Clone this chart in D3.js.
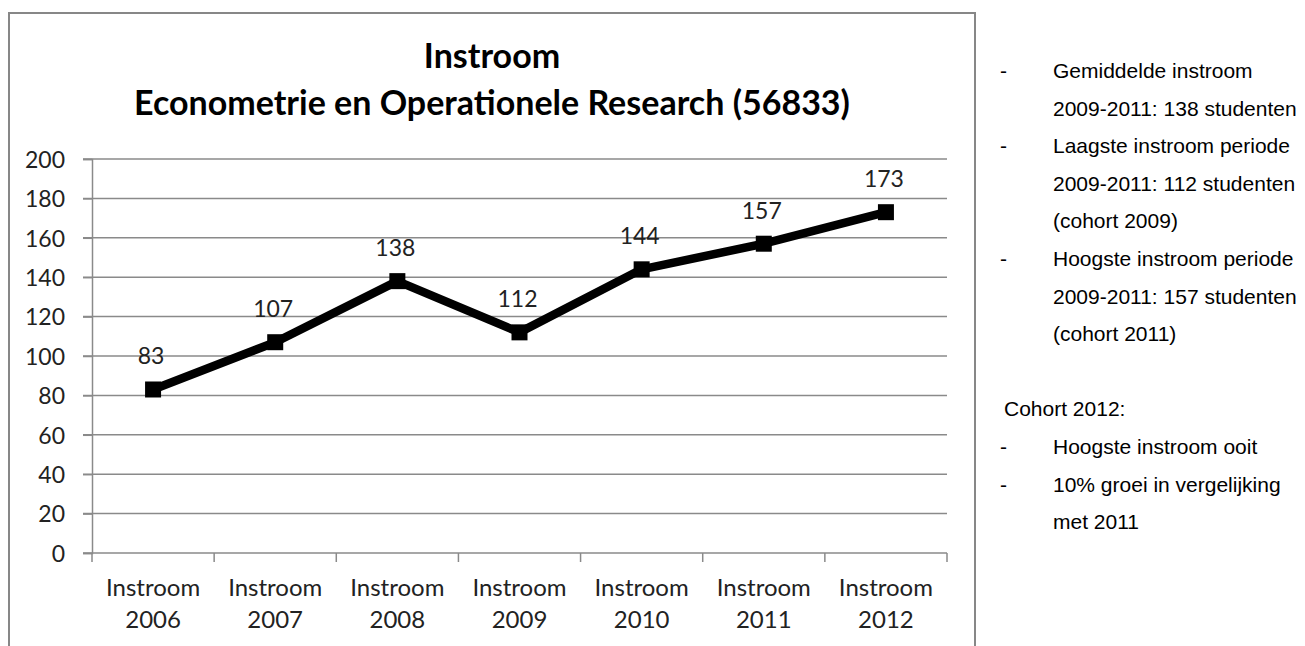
<!DOCTYPE html>
<html>
<head>
<meta charset="utf-8">
<script src="https://cdn.jsdelivr.net/npm/d3@7"></script>
<style>
  body { margin: 0; background: #fff; }
</style>
</head>
<body>
<script>
// chart data
const categories = ["2006", "2007", "2008", "2009", "2010", "2011", "2012"];
const values = [83, 107, 138, 112, 144, 157, 173];
const yTicks = [0, 20, 40, 60, 80, 100, 120, 140, 160, 180, 200];
const titleLines = ["Instroom", "Econometrie en Operationele Research (56833)"];

// notes on the right side
const notes = [
    {bullet: true, lines: ["Gemiddelde instroom", "2009-2011: 138 studenten"]},
    {bullet: true, lines: ["Laagste instroom periode", "2009-2011: 112 studenten", "(cohort 2009)"]},
    {bullet: true, lines: ["Hoogste instroom periode", "2009-2011: 157 studenten", "(cohort 2011)"]},
    {bullet: false, lines: [""]},
    {bullet: false, lines: ["Cohort 2012:"]},
    {bullet: true, lines: ["Hoogste instroom ooit"]},
    {bullet: true, lines: ["10% groei in vergelijking", "met 2011"]}
];

const canvWidth = 1305, canvHeight = 646;
const svg = d3.select("body").append("svg")
    .attr("width", canvWidth)
    .attr("height", canvHeight);

const chartFont = "Lato, 'Open Sans', sans-serif";

// chart frame (runs off the bottom)
svg.append("rect")
    .attr("x", 9)
    .attr("y", 13)
    .attr("width", 966)
    .attr("height", 700)
    .attr("fill", "#fff")
    .attr("stroke", "#878787")
    .attr("stroke-width", 2);

// title
svg.append("g").selectAll("text")
    .data(titleLines)
    .join("text")
    .attr("x", 492)
    .attr("y", (d, i) => 68 + i * 47)
    .attr("text-anchor", "middle")
    .attr("font-family", chartFont)
    .attr("font-weight", "bold")
    .attr("font-size", "34px")
    .attr("fill", "#000")
    .text(d => d);

const margin = {left: 92, top: 159, right: 947, bottom: 553};

const xScale = d3.scaleBand()
    .domain(categories)
    .range([margin.left, margin.right]);

const yScale = d3.scaleLinear()
    .domain([0, 200])
    .range([margin.bottom, margin.top]);

// gridlines
svg.append("g")
    .selectAll("line")
    .data(yTicks)
    .join("line")
    .attr("x1", margin.left - 9)
    .attr("x2", margin.right)
    .attr("y1", d => yScale(d))
    .attr("y2", d => yScale(d))
    .attr("stroke", "#8a8a8a")
    .attr("stroke-width", 1.5);

// y axis
const yAxis = svg.append("g")
    .attr("transform", "translate(" + margin.left + ",0)")
    .call(d3.axisLeft(yScale).tickValues(yTicks).tickSize(9).tickPadding(18));
yAxis.select(".domain").attr("stroke", "#8a8a8a").attr("stroke-width", 1.5);
yAxis.selectAll(".tick line").attr("stroke", "#8a8a8a").attr("stroke-width", 1.5);
yAxis.selectAll(".tick text")
    .attr("font-family", chartFont)
    .attr("font-size", "23px")
    .attr("fill", "#222")
    .attr("dy", "0.36em");

// x axis: ticks between categories
const xBoundaries = categories.map(c => xScale(c)).concat([margin.right]);
svg.append("g")
    .selectAll("line")
    .data(xBoundaries)
    .join("line")
    .attr("x1", d => d)
    .attr("x2", d => d)
    .attr("y1", margin.bottom)
    .attr("y2", margin.bottom + 9)
    .attr("stroke", "#8a8a8a")
    .attr("stroke-width", 1.5);

const xLabels = svg.append("g")
    .selectAll("text")
    .data(categories)
    .join("text")
    .attr("x", d => xScale(d) + xScale.bandwidth() / 2)
    .attr("y", 596)
    .attr("text-anchor", "middle")
    .attr("font-family", chartFont)
    .attr("font-size", "24px")
    .attr("fill", "#222");
xLabels.append("tspan")
    .attr("x", d => xScale(d) + xScale.bandwidth() / 2)
    .text("Instroom");
xLabels.append("tspan")
    .attr("x", d => xScale(d) + xScale.bandwidth() / 2)
    .attr("dy", 32)
    .text(d => d);

// the line
const points = categories.map((c, i) => ({cat: c, value: values[i]}));
const line = d3.line()
    .x(d => xScale(d.cat) + xScale.bandwidth() / 2)
    .y(d => yScale(d.value));

svg.append("path")
    .datum(points)
    .attr("d", line)
    .attr("fill", "none")
    .attr("stroke", "#000")
    .attr("stroke-width", 8.5)
    .attr("stroke-linejoin", "round");

svg.append("g")
    .selectAll("rect")
    .data(points)
    .join("rect")
    .attr("x", d => xScale(d.cat) + xScale.bandwidth() / 2 - 8)
    .attr("y", d => yScale(d.value) - 8)
    .attr("width", 16)
    .attr("height", 16)
    .attr("fill", "#000");

// data labels
svg.append("g")
    .selectAll("text")
    .data(points)
    .join("text")
    .attr("x", d => xScale(d.cat) + xScale.bandwidth() / 2 - 2)
    .attr("y", d => yScale(d.value) - 25)
    .attr("text-anchor", "middle")
    .attr("font-family", chartFont)
    .attr("font-size", "23px")
    .attr("fill", "#222")
    .text(d => d.value);

// notes text
const noteFont = "'Liberation Sans', Arial, sans-serif";
const notesG = svg.append("g");
let row = 0;
notes.forEach(function (n) {
    n.lines.forEach(function (l, j) {
        const y = 78 + row * 37.6;
        if (n.bullet && j === 0) {
            notesG.append("text")
                .attr("x", 1000)
                .attr("y", y)
                .attr("font-family", noteFont)
                .attr("font-size", "21px")
                .attr("fill", "#000")
                .text("-");
        }
        notesG.append("text")
            .attr("x", n.bullet ? 1053 : 1004)
            .attr("y", y)
            .attr("font-family", noteFont)
            .attr("font-size", "21px")
            .attr("fill", "#000")
            .text(l);
        row++;
    });
});
</script>
</body>
</html>
